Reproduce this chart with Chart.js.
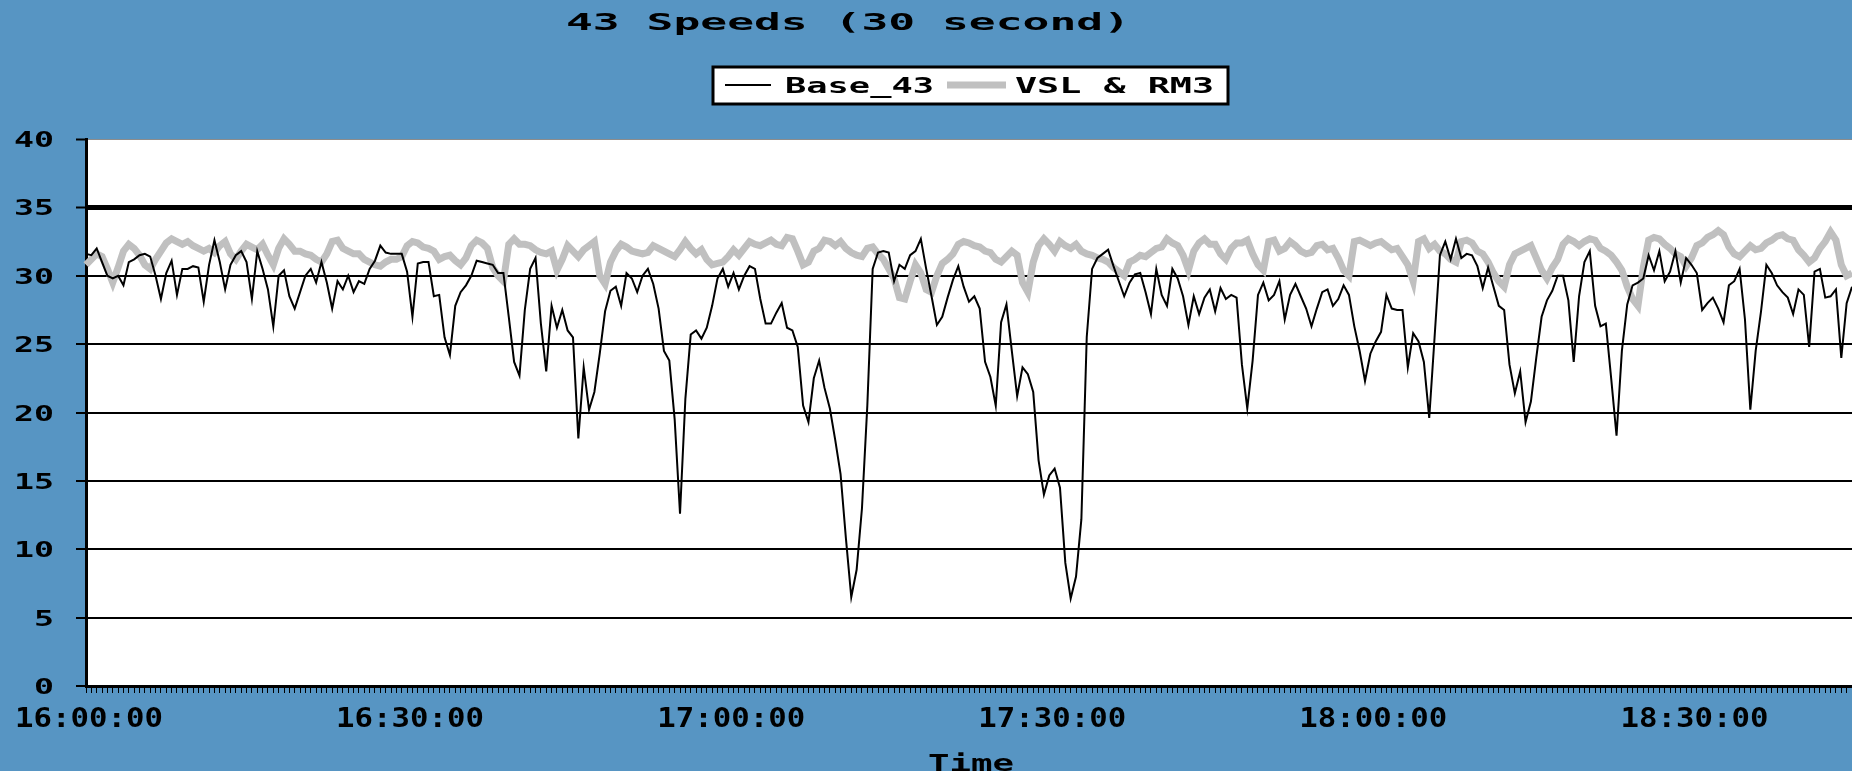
<!DOCTYPE html>
<html>
<head>
<meta charset="utf-8">
<script src="https://cdn.jsdelivr.net/npm/chart.js@4/dist/chart.umd.min.js"></script>
<style>
  html, body { margin: 0; padding: 0; background: #5795c3; overflow: hidden; }
  #wrap { width: 1852px; height: 771px; position: relative; }
  canvas { display: block; }
</style>
</head>
<body>
<div id="wrap"><canvas id="speedChart" width="1852" height="771"></canvas></div>
<script>
// ---- chart text ----
const chartTitle = '43 Speeds (30 second)';
const xAxisTitle = 'Time';
const seriesNames = ['Base_43', 'VSL & RM3'];

// ---- time axis: 30-second intervals from 16:00:00 ----
const startTime = '16:00:00';
const stepSeconds = 30;
const xTickLabels = ['16:00:00', '16:30:00', '17:00:00', '17:30:00', '18:00:00', '18:30:00'];
const yTickLabels = [0, 5, 10, 15, 20, 25, 30, 35, 40];

// ---- speeds (mph) ----
const base43 = [
  31.6,31.5,32.0,31.0,30.0,29.8,30.0,29.3,31.0,31.2,
  31.5,31.6,31.4,30.0,28.3,30.2,31.1,28.6,30.5,30.5,
  30.7,30.6,28.1,30.8,32.6,31.0,29.0,30.8,31.5,31.8,
  31.0,28.3,31.8,30.5,29.0,26.3,30.0,30.4,28.5,27.6,
  28.8,30.0,30.5,29.5,31.0,29.5,27.6,29.6,29.0,30.0,
  28.8,29.6,29.4,30.5,31.1,32.2,31.7,31.6,31.6,31.6,
  30.3,27.0,30.9,31.0,31.0,28.5,28.6,25.5,24.2,27.8,
  28.8,29.3,30.0,31.1,31.0,30.9,30.8,30.2,30.2,27.0,
  23.7,22.7,27.5,30.5,31.3,26.5,23.0,27.8,26.2,27.5,
  26.0,25.5,18.1,23.3,20.2,21.5,24.3,27.4,28.9,29.2,
  27.8,30.2,29.8,28.8,30.0,30.5,29.4,27.6,24.5,23.8,
  19.5,12.6,21.0,25.7,26.0,25.4,26.2,27.8,29.8,30.5,
  29.2,30.2,29.0,30.0,30.7,30.5,28.3,26.5,26.5,27.3,
  28.0,26.2,26.0,24.8,20.5,19.3,22.5,23.8,21.8,20.3,
  18.0,15.5,10.8,6.5,8.5,13.0,20.5,30.5,31.7,31.8,
  31.7,29.6,30.8,30.5,31.5,31.8,32.7,30.5,28.5,26.4,
  27.0,28.4,29.7,30.7,29.2,28.1,28.5,27.6,23.7,22.6,
  20.5,26.6,27.9,24.5,21.2,23.3,22.8,21.5,16.5,14.0,
  15.4,15.9,14.5,9.0,6.4,8.0,12.2,25.5,30.5,31.3,
  31.6,31.9,30.7,29.6,28.5,29.5,30.1,30.2,28.8,27.2,
  30.5,28.6,27.8,30.5,29.8,28.5,26.4,28.5,27.2,28.4,
  29.0,27.4,29.1,28.3,28.6,28.4,23.5,20.3,23.8,28.6,
  29.5,28.2,28.6,29.6,26.8,28.6,29.4,28.5,27.6,26.3,
  27.6,28.8,29.0,27.8,28.3,29.3,28.6,26.3,24.5,22.3,
  24.3,25.2,25.9,28.6,27.6,27.5,27.5,23.3,25.8,25.2,
  23.7,19.6,25.5,31.5,32.5,31.2,32.7,31.3,31.6,31.5,
  30.7,29.1,30.6,29.2,27.8,27.5,23.5,21.4,23.0,19.3,
  20.8,24.0,27.0,28.2,28.9,30.0,30.0,28.2,23.7,28.5,
  31.0,31.8,27.8,26.3,26.5,22.5,18.3,24.5,27.9,29.3,
  29.5,29.8,31.5,30.4,31.8,29.6,30.3,31.8,29.5,31.3,
  30.8,30.2,27.5,28.0,28.4,27.6,26.6,29.3,29.6,30.5,
  26.8,20.2,24.5,27.4,30.8,30.2,29.3,28.8,28.4,27.2,
  29.0,28.6,24.8,30.3,30.5,28.4,28.5,29.0,24.0,28.0,29.2
];

const vslRm3 = [
  30.8,31.2,31.6,31.4,30.5,29.5,30.6,31.8,32.3,32.0,
  31.5,30.8,30.5,31.2,31.8,32.4,32.7,32.5,32.3,32.5,
  32.2,32.0,31.8,32.0,31.7,32.2,32.5,31.6,31.2,31.8,
  32.3,32.1,31.9,32.3,31.5,30.8,32.0,32.7,32.3,31.8,
  31.8,31.6,31.5,31.2,31.0,31.6,32.5,32.6,32.0,31.8,
  31.6,31.6,31.2,31.0,30.8,30.7,31.0,31.2,31.2,31.4,
  32.2,32.5,32.4,32.1,32.0,31.8,31.2,31.4,31.5,31.1,
  30.8,31.3,32.2,32.6,32.4,32.0,30.6,30.0,29.6,32.3,
  32.7,32.3,32.3,32.2,31.9,31.7,31.6,31.8,30.4,31.2,
  32.2,31.8,31.4,31.9,32.2,32.5,30.0,29.4,31.0,31.8,
  32.3,32.1,31.8,31.7,31.6,31.7,32.2,32.0,31.8,31.6,
  31.4,31.9,32.5,32.0,31.6,31.9,31.2,30.8,30.9,31.0,
  31.4,31.9,31.5,32.0,32.5,32.3,32.2,32.4,32.6,32.3,
  32.2,32.8,32.7,31.8,30.8,31.0,31.8,32.0,32.6,32.5,
  32.2,32.5,32.0,31.7,31.5,31.4,32.0,32.1,31.6,31.2,
  30.5,29.8,28.4,28.3,29.6,30.8,30.2,29.0,28.8,30.0,
  30.9,31.2,31.6,32.3,32.5,32.4,32.2,32.1,31.8,31.7,
  31.2,31.0,31.4,31.8,31.5,29.5,28.8,31.0,32.2,32.7,
  32.3,31.8,32.5,32.2,32.0,32.3,31.8,31.6,31.5,31.3,
  31.2,31.0,30.6,30.3,30.0,31.0,31.2,31.5,31.4,31.7,
  32.0,32.1,32.7,32.4,32.2,31.5,30.4,31.8,32.4,32.7,
  32.3,32.3,31.6,31.2,32.0,32.4,32.4,32.6,31.6,30.8,
  30.4,32.5,32.6,31.8,32.0,32.5,32.2,31.8,31.6,31.7,
  32.2,32.3,31.9,32.0,31.3,30.4,30.0,32.5,32.6,32.4,
  32.2,32.4,32.5,32.2,31.9,32.0,31.4,30.8,29.6,32.5,
  32.7,32.0,32.3,31.8,31.6,31.2,31.0,32.5,32.6,32.4,
  31.8,31.6,31.0,30.2,29.6,29.2,30.8,31.6,31.8,32.0,
  32.2,31.3,30.4,29.8,30.6,31.2,32.3,32.7,32.5,32.2,
  32.5,32.7,32.6,32.0,31.8,31.5,31.0,30.4,29.2,28.3,
  27.8,30.6,32.6,32.8,32.7,32.3,32.0,31.6,31.4,30.7,
  31.3,32.2,32.4,32.8,33.0,33.3,33.0,32.1,31.6,31.4,
  31.8,32.2,31.9,32.0,32.4,32.6,32.9,33.0,32.7,32.6,
  31.9,31.5,31.0,31.3,32.0,32.5,33.2,32.6,30.8,30.0,30.2
];

// category labels hh:mm:ss for every sample
function toSeconds(t) { const [h, m, s] = t.split(':').map(Number); return h * 3600 + m * 60 + s; }
function fmt(sec) {
  const p = n => String(n).padStart(2, '0');
  return p(Math.floor(sec / 3600)) + ':' + p(Math.floor(sec / 60) % 60) + ':' + p(sec % 60);
}
const categories = base43.map((_, i) => fmt(toSeconds(startTime) + i * stepSeconds));

// ---- styling ----
const PAGE_BG = '#5795c3';
const INK = '#000000';
const GRAY_LINE = '#c0c0c0';
const FONT_FAMILY = '"DejaVu Sans Mono", monospace';

// draws text stretched horizontally to a given width, vertically centred on its cap height
function drawStretched(ctx, text, anchorX, capMidY, capH, width, align) {
  const size = capH / 0.73;
  ctx.save();
  ctx.font = 'bold ' + size + 'px ' + FONT_FAMILY;
  ctx.fillStyle = INK;
  ctx.textAlign = 'left';
  ctx.textBaseline = 'alphabetic';
  const natural = ctx.measureText(text).width;
  const sx = width / natural;
  const left = align === 'center' ? anchorX - width / 2 : align === 'right' ? anchorX - width : anchorX;
  ctx.translate(left, capMidY + capH / 2);
  ctx.scale(sx, 1);
  ctx.fillText(text, 0, 0);
  ctx.restore();
}

const backdrop = {
  id: 'backdrop',
  beforeDraw(chart) {
    const { ctx, chartArea: a } = chart;
    ctx.save();
    ctx.fillStyle = PAGE_BG;
    ctx.fillRect(0, 0, chart.width, chart.height);
    ctx.fillStyle = '#ffffff';
    ctx.fillRect(a.left, a.top, a.right - a.left, a.bottom - a.top);
    ctx.restore();
  }
};

const annotations = {
  id: 'annotations',
  afterDraw(chart) {
    const { ctx, scales } = chart;
    const xs = scales.x, ys = scales.y;

    // title
    drawStretched(ctx, chartTitle, 848, 21, 17, 564, 'center');

    // legend box
    ctx.save();
    ctx.fillStyle = '#ffffff';
    ctx.fillRect(713, 67, 515, 37);
    ctx.strokeStyle = INK;
    ctx.lineWidth = 3;
    ctx.strokeRect(713, 67, 515, 37);
    const ds = chart.data.datasets;
    ctx.lineCap = 'butt';
    ctx.strokeStyle = ds[0].borderColor; ctx.lineWidth = 2;
    ctx.beginPath(); ctx.moveTo(725, 85); ctx.lineTo(771, 85); ctx.stroke();
    ctx.strokeStyle = ds[1].borderColor; ctx.lineWidth = 7;
    ctx.beginPath(); ctx.moveTo(947, 85); ctx.lineTo(1006, 85); ctx.stroke();
    ctx.restore();
    drawStretched(ctx, ds[0].label, 785, 85, 15, 149, 'left');
    drawStretched(ctx, ds[1].label, 1015, 85, 15, 199, 'left');

    // y tick labels
    yTickLabels.forEach(v => {
      const t = String(v);
      drawStretched(ctx, t, 54, ys.getPixelForValue(v), 16, 20 * t.length, 'right');
    });

    // x tick labels
    xTickLabels.forEach(lbl => {
      const idx = categories.indexOf(lbl);
      if (idx < 0) return;
      drawStretched(ctx, lbl, xs.getPixelForValue(idx) + 3, 717, 19, 148, 'center');
    });

    // x axis title
    drawStretched(ctx, xAxisTitle, (xs.left + xs.right) / 2 + 2, 762, 17, 86, 'center');
  }
};

new Chart(document.getElementById('speedChart'), {
  type: 'line',
  data: {
    labels: categories,
    datasets: [
      { label: seriesNames[0], data: base43, borderColor: INK, borderWidth: 2,
        pointRadius: 0, tension: 0, fill: false },
      { label: seriesNames[1], data: vslRm3, borderColor: GRAY_LINE, borderWidth: 7,
        pointRadius: 0, tension: 0, fill: false }
    ]
  },
  options: {
    responsive: false,
    animation: false,
    devicePixelRatio: 1,
    layout: { padding: { left: 76, right: 0, top: 139, bottom: 78 } },
    plugins: {
      legend: { display: false },
      title: { display: false },
      tooltip: { enabled: false }
    },
    scales: {
      x: {
        type: 'category',
        offset: false,
        ticks: { display: false, autoSkip: false },
        grid: { drawOnChartArea: false, drawTicks: true, tickLength: 7,
                tickColor: INK, tickWidth: 1 },
        border: { display: true, color: INK, width: 3 }
      },
      y: {
        min: 0, max: 40,
        ticks: { display: false, stepSize: 5 },
        grid: {
          drawTicks: true, tickLength: 10, tickColor: INK, tickWidth: 2,
          color: c => (c.tick && c.tick.value === 40) ? '#8c8c8c' : INK,
          lineWidth: c => {
            const v = c.tick ? c.tick.value : 0;
            return v === 35 ? 5 : v === 40 ? 1 : 2;
          }
        },
        border: { display: true, color: INK, width: 3 }
      }
    }
  },
  plugins: [backdrop, annotations]
});
</script>
</body>
</html>
